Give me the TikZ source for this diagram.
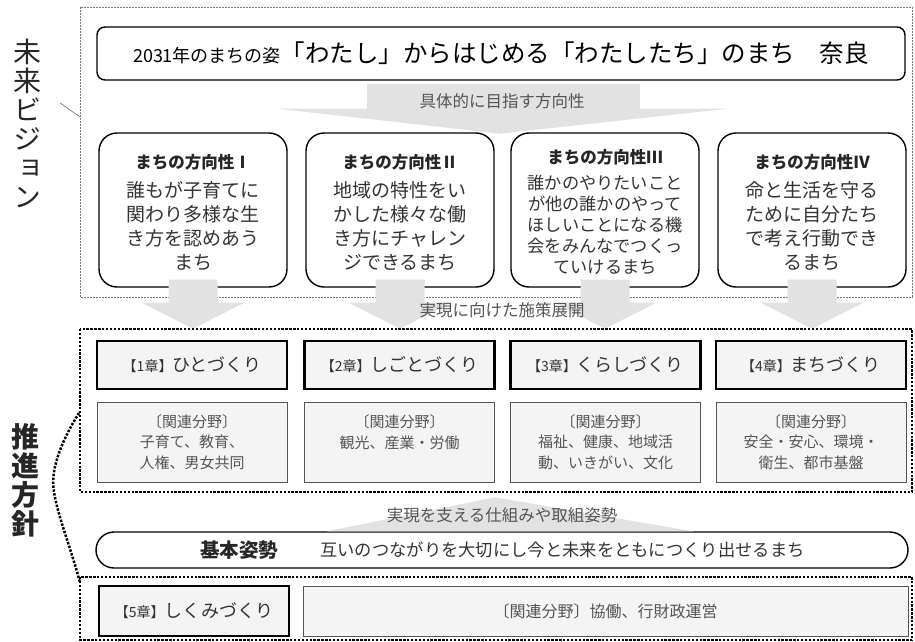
\documentclass[tikz,border=0pt]{standalone}
\usepackage{fontspec}
\setmainfont{Noto Sans CJK JP}
\newfontfamily\jpvert{Noto Sans CJK JP}[RawFeature=+vert]
\usetikzlibrary{calc}

\definecolor{arrowgray}{HTML}{E2E2E2}
\definecolor{boxfill}{HTML}{F4F4F4}
\definecolor{textgray}{HTML}{555555}
\definecolor{framegray}{HTML}{7A7A7A}

\begin{document}
\begin{tikzpicture}[x=1pt, y=-1pt,
    dirbox/.style={draw, fill=white, rounded corners=18pt, line width=1.4pt, minimum width=188pt, minimum height=154pt},
    dirtitle/.style={inner sep=0pt, text=black!85, font=\bfseries\fontsize{16.5}{20}\selectfont},
    dirtext/.style={inner sep=0pt, align=center, text=black!80, font=\fontsize{19}{24}\selectfont},
    chapbox/.style={draw, fill=boxfill, line width=2.8pt, minimum width=190pt, minimum height=48pt, text=black!80},
    fieldbox/.style={draw=textgray, fill=boxfill, line width=0.9pt, minimum width=190pt, minimum height=80pt, align=center, text=textgray, font=\fontsize{15}{20.5}\selectfont},
    guide/.style={inner sep=0pt, text=textgray, font=\fontsize{16.5}{20}\selectfont},
    dotframe/.style={line width=2.5pt, dash pattern=on 2.4pt off 1.5pt}]
    \useasboundingbox (0,0) rectangle (915,642);

    % future vision
    \draw[framegray, line width=0.7pt, dash pattern=on 2pt off 1pt] (80,7) rectangle (912,297);
    \node[draw, fill=white, rounded corners=8pt, line width=1.4pt, minimum width=808pt, minimum height=53pt] (vision) at (501,53.5)
        {{\fontsize{18}{20}\selectfont 2031年のまちの姿}{\fontsize{24.5}{28}\selectfont 「わたし」からはじめる「わたしたち」のまち　奈良}};
    \fill[arrowgray] ($(vision.south)+(-134,3)$) rectangle ($(vision.south)+(139,28)$);
    \fill[arrowgray] ($(vision.south)+(-224,28)$) -- ($(vision.south)+(227,28)$) -- ($(vision.south)+(-1,53)$) -- cycle;
    \node[guide] (aim) at (502,101) {具体的に目指す方向性};

    \node[dirbox] (d1) at (193,210) {};
    \node[dirbox] (d2) at (400,210) {};
    \node[dirbox] (d3) at (605,210) {};
    \node[dirbox] (d4) at (812,210) {};
    \node[dirtitle] (d1 title) at (193,162) {まちの方向性Ⅰ};
    \node[dirtitle] (d2 title) at (400,162) {まちの方向性Ⅱ};
    \node[dirtitle] (d3 title) at (605,157) {まちの方向性Ⅲ};
    \node[dirtitle] (d4 title) at (812,162) {まちの方向性Ⅳ};
    \node[dirtext] (d1 text) at (193,226) {誰もが子育てに\\関わり多様な生\\き方を認めあう\\まち};
    \node[dirtext] (d2 text) at (400,226) {地域の特性をい\\かした様々な働\\き方にチャレン\\ジできるまち};
    \node[dirtext, font=\fontsize{17.2}{21}\selectfont] (d3 text) at (605,225) {誰かのやりたいこと\\が他の誰かのやって\\ほしいことになる機\\会をみんなでつくっ\\ていけるまち};
    \node[dirtext] (d4 text) at (812,226) {命と生活を守る\\ために自分たち\\で考え行動でき\\るまち};

    \foreach \d in {d1,d2,d3,d4}
        \fill[arrowgray] ($(\d.south)+(-24.5,-8)$) -- ($(\d.south)+(24.5,-8)$) -- ($(\d.south)+(24.5,15)$) -- ($(\d.south)+(51.5,15)$)
            -- ($(\d.south)+(0,41)$) -- ($(\d.south)+(-51.5,15)$) -- ($(\d.south)+(-24.5,15)$) -- cycle;
    \node[guide] (deploy) at (502,310) {実現に向けた施策展開};

    % policy
    \draw[dotframe] (80,329) rectangle (912,492);
    \node[chapbox] (c1) at (192,365) {{\fontsize{14}{16}\selectfont 【1章】}{\fontsize{18}{20}\selectfont ひとづくり}};
    \node[chapbox] (c2) at (399.5,365) {{\fontsize{14}{16}\selectfont 【2章】}{\fontsize{18}{20}\selectfont しごとづくり}};
    \node[chapbox] (c3) at (605.5,365) {{\fontsize{14}{16}\selectfont 【3章】}{\fontsize{18}{20}\selectfont くらしづくり}};
    \node[chapbox] (c4) at (811,365) {{\fontsize{14}{16}\selectfont 【4章】}{\fontsize{18}{20}\selectfont まちづくり}};
    \node[fieldbox] (f1) at (192,442) {〔関連分野〕\\子育て、教育、\\人権、男女共同};
    \node[fieldbox] (f2) at (399.5,442) {〔関連分野〕\\観光、産業・労働\\\mbox{}};
    \node[fieldbox] (f3) at (605.5,442) {〔関連分野〕\\福祉、健康、地域活\\動、いきがい、文化};
    \node[fieldbox] (f4) at (811,442) {〔関連分野〕\\安全・安心、環境・\\衛生、都市基盤};

    \node[draw, fill=white, line width=1.4pt, rounded corners=18pt, minimum width=812pt, minimum height=36pt] (stance) at (502,550) {};
    \fill[arrowgray] ($(stance.north)+(-7,-34)$) -- ($(stance.north)+(191,0)$) -- ($(stance.north)+(-175,0)$) -- cycle;
    \node[guide] (support) at (502,515) {実現を支える仕組みや取組姿勢};
    \node[text=black!85, font=\bfseries\fontsize{19.5}{22}\selectfont] (stance title) at (239,550) {基本姿勢};
    \node[anchor=west, inner sep=0pt, text=black!80, font=\fontsize{17.3}{20}\selectfont] (stance text) at (320,550) {互いのつながりを大切にし今と未来をともにつくり出せるまち};

    \draw[dotframe] (80,577) rectangle (912,640);
    \node[chapbox, minimum height=50pt] (c5) at (194,611) {{\fontsize{14}{16}\selectfont 【5章】}{\fontsize{18}{20}\selectfont しくみづくり}};
    \node[fieldbox, minimum width=605pt, minimum height=50pt, font=\fontsize{16}{20}\selectfont] (f5) at (605.5,611) {〔関連分野〕協働、行財政運営};

    % side labels
    \node[align=center, inner sep=0pt, text=black!85, font=\jpvert\fontsize{28}{29}\selectfont] (vision label) at (27,123) {未\\来\\ビ\\ジ\\ョ\\ン};
    \coordinate (vision corner) at (80,117);
    \draw[framegray, line width=0.7pt] ($(vision label.east)+(19,-20)$) -- (vision corner);
    \node[align=center, inner sep=0pt, text=black!85, font=\bfseries\fontsize{28}{29}\selectfont] (policy label) at (25,480) {推\\進\\方\\針};
    \coordinate (bracket top) at (79,413);
    \coordinate (bracket tip) at ($(policy label.east)+(14,2)$);
    \coordinate (bracket bottom) at (80,583);
    \draw[dotframe] (bracket top) .. controls (62,440) and (53,465) .. (bracket tip) .. controls (53,505) and (72,550) .. (bracket bottom);
\end{tikzpicture}
\end{document}
